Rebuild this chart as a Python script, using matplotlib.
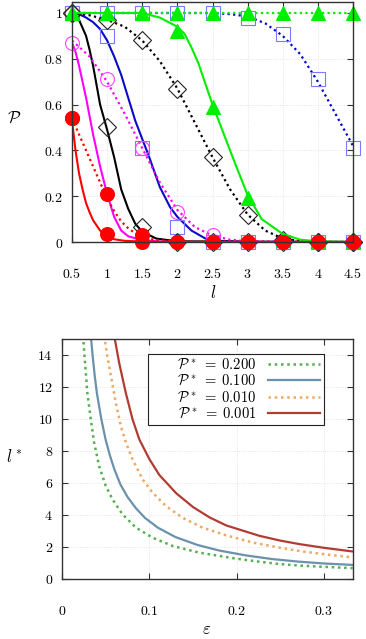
import numpy as np
import matplotlib
matplotlib.use("Agg")
import matplotlib.pyplot as plt

plt.rcParams['mathtext.fontset'] = 'cm'
plt.rcParams['font.family'] = 'serif'
plt.rcParams['font.serif'] = ['DejaVu Serif']

# ---------- top panel: P versus l ----------
l_pts = [0.5, 1.0, 1.5, 2.0, 2.5, 3.0, 3.5, 4.0, 4.5]

# markers (simulation points)
red_a = [0.54, 0.21, 0.03, 0, 0, 0, 0, 0, 0]
red_b = [0.54, 0.035, 0.0, 0, 0, 0, 0, 0, 0]
magenta_a = [0.87, 0.71, 0.41, 0.13, 0.03, 0, 0, 0, 0]
black_a = [1.0, 0.97, 0.88, 0.67, 0.37, 0.12, 0.01, 0, 0]
black_b = [1.0, 0.50, 0.065, 0, 0, 0, 0, 0, 0]
blue_a = [1.0, 1.0, 1.0, 1.0, 1.0, 0.98, 0.91, 0.71, 0.41]
blue_b = [1.0, 0.90, 0.41, 0.065, 0, 0, 0, 0, 0]
green_a = [1.0, 1.0, 1.0, 1.0, 1.0, 1.0, 1.0, 1.0, 1.0]
green_b = [1.0, 1.0, 1.0, 0.92, 0.59, 0.19, 0.01, 0, 0]

# curves
red_sol_l = [0.5, 0.55, 0.6, 0.65, 0.7, 0.75, 0.8, 0.9, 1.0, 1.1, 1.25, 1.5, 2.0, 4.5]
red_sol_p = [0.53, 0.40, 0.30, 0.23, 0.17, 0.13, 0.095, 0.05, 0.025, 0.012, 0.005, 0.002, 0.0, 0.0]
red_dot_l = [0.5, 0.6, 0.7, 0.8, 0.9, 1.0, 1.1, 1.2, 1.3, 1.4, 1.5, 1.7, 2.0, 4.5]
red_dot_p = [0.54, 0.47, 0.40, 0.33, 0.26, 0.19, 0.135, 0.09, 0.06, 0.038, 0.022, 0.008, 0.002, 0]

mag_sol_l = [0.5, 0.55, 0.6, 0.65, 0.7, 0.75, 0.8, 0.9, 1.0, 1.1, 1.2, 1.3, 1.5, 1.75, 2.0, 4.5]
mag_sol_p = [0.87, 0.83, 0.77, 0.70, 0.63, 0.55, 0.47, 0.33, 0.21, 0.11, 0.05, 0.025, 0.008, 0.002, 0, 0]
mag_dot_l = [0.5, 0.75, 1.0, 1.25, 1.5, 1.75, 2.0, 2.25, 2.5, 2.75, 3.0, 4.5]
mag_dot_p = [0.88, 0.81, 0.70, 0.56, 0.41, 0.26, 0.14, 0.065, 0.028, 0.01, 0.003, 0]

blk_sol_l = [0.5, 0.6, 0.7, 0.75, 0.8, 0.9, 1.0, 1.1, 1.2, 1.3, 1.4, 1.5, 1.7, 2.0, 4.5]
blk_sol_p = [0.99, 0.97, 0.90, 0.84, 0.77, 0.60, 0.49, 0.37, 0.23, 0.145, 0.08, 0.045, 0.015, 0.003, 0]
blk_dot_l = [0.5, 0.75, 1.0, 1.25, 1.5, 1.75, 2.0, 2.25, 2.5, 2.75, 3.0, 3.25, 3.5, 3.75, 4.0, 4.5]
blk_dot_p = [1.0, 0.99, 0.97, 0.94, 0.88, 0.79, 0.67, 0.52, 0.37, 0.23, 0.12, 0.05, 0.015, 0.004, 0.001, 0]

blu_sol_l = [0.5, 0.6, 0.7, 0.8, 0.9, 1.0, 1.1, 1.2, 1.3, 1.4, 1.5, 1.6, 1.75, 1.9, 2.0, 2.2, 2.4, 2.6, 3.0, 4.5]
blu_sol_p = [1.0, 0.995, 0.98, 0.96, 0.93, 0.88, 0.81, 0.73, 0.63, 0.53, 0.45, 0.37, 0.24, 0.15, 0.11, 0.05, 0.015, 0.005, 0.0, 0]
blu_dot_l = [0.5, 1.0, 1.5, 2.0, 2.5, 2.75, 3.0, 3.25, 3.5, 3.75, 4.0, 4.25, 4.5]
blu_dot_p = [1.0, 1.0, 1.0, 1.0, 1.0, 0.995, 0.985, 0.955, 0.90, 0.82, 0.70, 0.56, 0.42]

grn_sol_l = [0.5, 1.0, 1.5, 1.75, 2.0, 2.1, 2.2, 2.3, 2.4, 2.5, 2.6, 2.8, 3.0, 3.2, 3.5, 3.75, 4.0, 4.5]
grn_sol_p = [1.0, 1.0, 1.0, 0.98, 0.94, 0.91, 0.85, 0.78, 0.69, 0.60, 0.52, 0.36, 0.205, 0.10, 0.035, 0.01, 0.003, 0]
grn_dot_l = [0.5, 4.5]
grn_dot_p = [1.0, 1.0]

# ---------- bottom panel: l* versus epsilon ----------
eps_200 = [0.0241, 0.0264, 0.0291, 0.033, 0.0368, 0.0425, 0.0502, 0.0578, 0.0693, 0.0847,
           0.1038, 0.127, 0.157, 0.196, 0.226, 0.25, 0.272, 0.30, 0.333]
l_200 = [15.2, 13.5, 11.6, 9.98, 8.52, 7.06, 5.81, 4.98, 4.04, 3.21,
         2.58, 2.06, 1.65, 1.30, 1.08, 0.93, 0.84, 0.76, 0.68]
eps_100 = [0.033, 0.035, 0.0375, 0.040, 0.045, 0.050, 0.055, 0.060, 0.067, 0.075,
           0.085, 0.095, 0.11, 0.13, 0.155, 0.18, 0.21, 0.24, 0.27, 0.30, 0.333]
l_100 = [15.2, 14.0, 12.7, 11.6, 10.0, 8.7, 7.7, 6.85, 5.9, 5.13,
         4.4, 3.82, 3.2, 2.62, 2.13, 1.78, 1.48, 1.25, 1.09, 0.97, 0.88]
eps_010 = [0.0483, 0.052, 0.056, 0.0617, 0.0674, 0.0732, 0.0808, 0.0923, 0.1038, 0.119,
           0.138, 0.161, 0.188, 0.219, 0.25, 0.272, 0.30, 0.333]
l_010 = [15.2, 13.9, 12.7, 11.0, 9.56, 8.52, 7.48, 6.23, 5.40, 4.56,
         3.83, 3.21, 2.73, 2.27, 1.95, 1.75, 1.55, 1.35]
eps_001 = [0.0598, 0.0655, 0.0732, 0.0808, 0.0885, 0.100, 0.1115, 0.131, 0.150, 0.169,
           0.188, 0.226, 0.25, 0.272, 0.30, 0.333]
l_001 = [15.2, 13.5, 11.6, 9.98, 8.73, 7.5, 6.5, 5.35, 4.5, 3.85,
         3.35, 2.70, 2.40, 2.18, 1.95, 1.72]

W, H = 366, 639
fig = plt.figure(figsize=(W / 100, H / 100), dpi=100)

dot = (0, (1, 1.5))
tick_fs = 10


def style_axes(ax, xpad, ypad):
    ax.tick_params(direction='in', top=True, right=True, length=4, width=0.8,
                   labelsize=tick_fs, color='#333333')
    ax.tick_params(axis='x', pad=xpad)
    ax.tick_params(axis='y', pad=ypad)
    ax.grid(True, color='#dddddd', linestyle=':', linewidth=0.6)
    for s in ax.spines.values():
        s.set_color('#333333')
        s.set_linewidth(1.0)


ax1 = fig.add_axes([72 / W, 1 - 242 / H, 281 / W, 240 / H])
style_axes(ax1, 18, 6.5)

def series(ax, ls_l, ls_p, ld_l, ld_p, a, b, color, lcol_dot, marker, ms, mfc, mec, mew=0.8):
    ax.plot(ld_l, ld_p, color=lcol_dot, linestyle=dot, lw=1.6)
    ax.plot(ls_l, ls_p, color=color, lw=1.5)
    if a is not None:
        ax.plot(l_pts, a, linestyle='none', marker=marker, ms=ms, mfc=mfc, mec=mec, mew=mew, clip_on=False)
    if b is not None:
        ax.plot(l_pts, b, linestyle='none', marker=marker, ms=ms, mfc=mfc, mec=mec, mew=mew, clip_on=False)

series(ax1, blu_sol_l, blu_sol_p, blu_dot_l, blu_dot_p, blue_a, blue_b,
       '#0a0ac8', '#0000dd', 's', 10.5, 'none', '#7a7aff')
series(ax1, blk_sol_l, blk_sol_p, blk_dot_l, blk_dot_p, black_a, black_b,
       'black', 'black', 'D', 9.5, 'none', '#222222')
series(ax1, mag_sol_l, mag_sol_p, mag_dot_l, mag_dot_p, magenta_a, None,
       '#ff00ff', '#ff00ff', 'o', 10, 'none', '#ff40ff')
series(ax1, grn_sol_l, grn_sol_p, grn_dot_l, grn_dot_p, green_a, green_b,
       '#00ee00', '#00ee00', '^', 10.5, '#00ee00', '#00ee00')
series(ax1, red_sol_l, red_sol_p, red_dot_l, red_dot_p, red_a, red_b,
       '#ff0000', '#ff0000', 'o', 10, '#ff0000', '#ff0000')

ax1.set_xlim(0.5, 4.5)
ax1.set_ylim(0, 1.048)
ax1.set_xticks(l_pts)
ax1.set_xticklabels(['$%g$' % v for v in l_pts])
yt1 = [0, 0.2, 0.4, 0.6, 0.8, 1.0]
ax1.set_yticks(yt1)
ax1.set_yticklabels(['$%g$' % v for v in yt1])

fig.text(14 / W, 1 - 118 / H, r'$\mathcal{P}$', fontsize=12, ha='center', va='center')
fig.text(213 / W, 1 - 293 / H, r'$l$', fontsize=12, ha='center', va='center')

# bottom panel
ax2 = fig.add_axes([62 / W, 1 - 579 / H, 291 / W, 240 / H])
style_axes(ax2, 18, 6.5)

ax2.plot(eps_200, l_200, color='#52b04e', linestyle=dot, lw=1.8,
         label=r'$\qquad\mathcal{P}^* \;=\; 0.200$')
ax2.plot(eps_100, l_100, color='#6c91ad', lw=1.6,
         label=r'$\qquad\mathcal{P}^* \;=\; 0.100$')
ax2.plot(eps_010, l_010, color='#eda862', linestyle=dot, lw=1.8,
         label=r'$\qquad\mathcal{P}^* \;=\; 0.010$')
ax2.plot(eps_001, l_001, color='#b23b32', lw=1.6,
         label=r'$\qquad\mathcal{P}^* \;=\; 0.001$')

ax2.set_xlim(0, 0.3333)
ax2.set_ylim(0, 15)
xt2 = [0, 0.1, 0.2, 0.3]
ax2.set_xticks(xt2)
ax2.set_xticklabels(['$%g$' % v for v in xt2])
yt2 = [0, 2, 4, 6, 8, 10, 12, 14]
ax2.set_yticks(yt2)
ax2.set_yticklabels(['$%g$' % v for v in yt2])

leg = ax2.legend(loc='upper right', bbox_to_anchor=(0.900, 0.9375), borderaxespad=0,
                 markerfirst=False, fancybox=False, fontsize=10.5, handlelength=3.6,
                 handletextpad=0.8, labelspacing=0.15, borderpad=0.25, framealpha=1)
leg.get_frame().set_edgecolor('#222222')
leg.get_frame().set_linewidth(0.8)

fig.text(14 / W, 1 - 458 / H, r'$l^*$', fontsize=12, ha='center', va='center')
fig.text(207 / W, 1 - 629 / H, r'$\varepsilon$', fontsize=12, ha='center', va='center')

fig.savefig('out.png', dpi=100)
